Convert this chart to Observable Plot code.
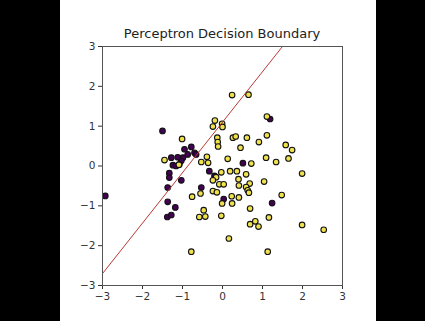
<!DOCTYPE html>
<html>
<head>
<meta charset="utf-8">
<script src="https://cdn.jsdelivr.net/npm/d3@7"></script>
<script src="https://cdn.jsdelivr.net/npm/@observablehq/plot@0.6"></script>
<style>
  html, body { margin: 0; padding: 0; background: #000; width: 425px; height: 321px; overflow: hidden; }
  #frame { position: absolute; left: 60px; top: 0; width: 316px; height: 321px; background: #fff; }
  #title { position: absolute; left: 42px; width: 240px; top: 26px; text-align: center;
           font-family: "DejaVu Sans", sans-serif; font-size: 13px; line-height: 15px; color: #222; white-space: nowrap; }
  #chart { position: absolute; left: 0; top: 0; }
  #chart svg { overflow: visible; }
</style>
</head>
<body>
<div id="frame">
  <div id="chart"></div>
  <div id="title">Perceptron Decision Boundary</div>
</div>
<script>
// Class 0 (purple) points
const class0X = [-1.50, -0.95, -0.78, -0.87, -0.99, -1.03, -1.28, -1.24, -1.16, -1.33, -1.33, -1.03, -1.37, -0.53, -1.37, -1.18, -1.38, -1.28, -2.93, -0.33, -0.20, 0.51, 0.03, 1.19, 1.24, -0.70, -1.12, -0.66, -1.08];
const class0Y = [0.88, 0.42, 0.48, 0.29, 0.21, 0.13, 0.21, 0.02, 0.00, -0.18, -0.29, -0.36, -0.54, -0.54, -0.90, -1.04, -1.28, -1.23, -0.75, -0.13, -0.25, 0.07, -0.83, 1.18, -0.93, 0.33, 0.22, 0.29, 0.04];
// Class 1 (yellow) points
const class1X = [-1.01, -1.45, -1.09, -0.53, 0.24, 0.65, -0.19, -0.24, -0.01, 0.00, -0.13, -0.12, -0.11, 0.26, 0.33, 0.61, 0.91, 0.45, -0.39, -0.36, 0.13, 0.72, -0.03, 0.19, 0.36, 0.59, 1.11, 1.11, 1.58, 1.74, 1.09, 1.34, 1.65, 1.99, -0.76, -0.55, -0.58, -0.47, -0.43, -0.78, -0.16, -0.24, -0.08, 0.03, 0.40, 0.41, 0.68, 0.59, 0.63, 0.66, 1.04, -0.24, -0.14, -0.01, 0.23, 0.41, 0.24, -0.03, 0.69, 0.69, 0.82, 0.90, 0.16, 1.48, 1.16, 1.99, 2.53, 1.13];
const class1Y = [0.68, 0.15, 0.03, 0.10, 1.78, 1.79, 1.14, 0.99, 1.06, 0.98, 0.71, 0.60, 0.49, 0.71, 0.74, 0.71, 0.60, 0.46, 0.23, 0.08, 0.18, 0.06, -0.16, -0.13, -0.13, -0.21, 1.24, 0.77, 0.53, 0.40, 0.21, 0.10, 0.19, -0.19, -0.77, -0.69, -1.28, -1.11, -1.27, -2.15, -0.28, -0.36, -0.46, -0.46, -0.33, -0.49, -0.44, -0.53, -0.61, -0.67, -0.39, -0.63, -0.66, -0.94, -0.76, -0.79, -0.94, -1.25, -1.07, -1.46, -1.39, -1.52, -1.82, -0.73, -1.29, -1.48, -1.60, -2.15];
// Decision boundary: y = slope * x + intercept
const boundarySlope = [1.267];
const boundaryIntercept = [1.1];
const axisDomain = [-3, 3];
const tickValues = [-3, -2, -1, 0, 1, 2, 3];

const points = [];
class0X.forEach((x, i) => points.push({x, y: class0Y[i], label: 0}));
class1X.forEach((x, i) => points.push({x, y: class1Y[i], label: 1}));

// boundary endpoints clipped to the axis domain
const m = boundarySlope[0], c = boundaryIntercept[0];
const [lo, hi] = axisDomain;
const xs = [lo, hi, (lo - c) / m, (hi - c) / m].filter(x => x >= lo && x <= hi && (m * x + c) >= lo - 1e-9 && (m * x + c) <= hi + 1e-9);
const xsSorted = [d3.min(xs), d3.max(xs)];
const boundary = xsSorted.map(x => ({x, y: m * x + c}));

const fmt = d => String(d).replace("-", "\u2212");

const plot = Plot.plot({
  width: 316,
  height: 321,
  marginLeft: 42,
  marginRight: 34,
  marginTop: 46,
  marginBottom: 36,
  style: { fontFamily: "DejaVu Sans, sans-serif", fontSize: "10.5px", color: "#333", background: "transparent" },
  x: { domain: axisDomain, ticks: tickValues, tickFormat: fmt, tickSize: 4, tickPadding: 3, label: null },
  y: { domain: axisDomain, ticks: tickValues, tickFormat: fmt, tickSize: 4, tickPadding: 3, label: null },
  color: { domain: [0, 1], range: ["#440154", "#f0e24c"] },
  marks: [
    Plot.dot(points, { x: "x", y: "y", fill: "label", stroke: "#111", strokeWidth: 1.1, r: 2.8 }),
    Plot.line(boundary, { x: "x", y: "y", stroke: "#b83a36", strokeWidth: 1 }),
    Plot.frame({ stroke: "#555", strokeWidth: 1 })
  ]
});
document.getElementById("chart").appendChild(plot);
</script>
</body>
</html>
